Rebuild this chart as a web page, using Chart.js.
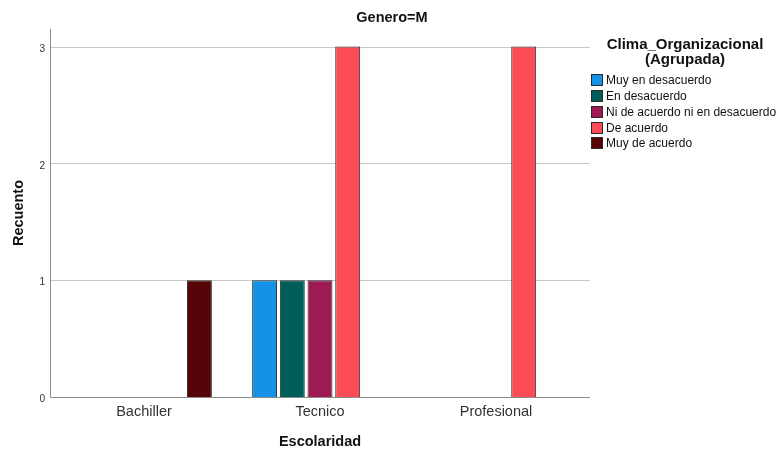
<!DOCTYPE html>
<html lang="es">
<head>
    <meta charset="UTF-8">
    <title>Genero=M - Escolaridad por Clima Organizacional</title>
    <script src="https://cdn.jsdelivr.net/npm/chart.js@4.4.1/dist/chart.umd.min.js"></script>
    <style>
        body {
            margin: 0;
            background: #fff;
            font-family: 'Liberation Sans', Arial, sans-serif;
        }
        .wrap {
            position: relative;
            width: 778px;
            height: 450px;
        }
        .legend-title {
            position: absolute;
            left: 596px;
            top: 36px;
            width: 178px;
            text-align: center;
            font-weight: bold;
            font-size: 15px;
            line-height: 15px;
            color: #111;
        }
        .legend-items {
            position: absolute;
            left: 591px;
            top: 72.6px;
        }
        .legend-item {
            display: flex;
            align-items: center;
            height: 15.75px;
            font-size: 12px;
            color: #111;
            white-space: nowrap;
        }
        .color-box {
            box-sizing: border-box;
            width: 12px;
            height: 12px;
            border: 1px solid #2b2b2b;
            margin-right: 3px;
        }
    </style>
</head>
<body>
    <div class="wrap">
        <canvas id="barChart"></canvas>
        <div class="legend-title">Clima_Organizacional<br>(Agrupada)</div>
        <div class="legend-items" id="legendItems"></div>
    </div>

    <script>
        // Escolaridad categories and counts per Clima_Organizacional group
        const categories = ['Bachiller', 'Tecnico', 'Profesional'];
        const seriesNames = ['Muy en desacuerdo', 'En desacuerdo', 'Ni de acuerdo ni en desacuerdo', 'De acuerdo', 'Muy de acuerdo'];
        const muyEnDesacuerdo = [null, 1, null];
        const enDesacuerdo = [null, 1, null];
        const niDeAcuerdo = [null, 1, null];
        const deAcuerdo = [null, 3, 3];
        const muyDeAcuerdo = [1, null, null];
        const yTicks = [0, 1, 2, 3];

        const seriesColors = ['#1492e6', '#005e5a', '#9d1a52', '#fc4c57', '#570409'];
        const seriesData = [muyEnDesacuerdo, enDesacuerdo, niDeAcuerdo, deAcuerdo, muyDeAcuerdo];

        const font = "'Liberation Sans', Arial, sans-serif";

        // Grid and axis lines run a few pixels past the bar area on both sides
        const framePlugin = {
            id: 'frame',
            beforeDatasetsDraw(chart) {
                const { ctx, chartArea: a, scales: { y } } = chart;
                const x0 = a.left - 6, x1 = a.right + 6;
                ctx.save();
                ctx.lineWidth = 1;
                ctx.strokeStyle = '#c8c8c8';
                yTicks.forEach(v => {
                    if (v === 0) return;
                    const py = Math.round(y.getPixelForValue(v)) + 0.5;
                    ctx.beginPath();
                    ctx.moveTo(x0, py);
                    ctx.lineTo(x1, py);
                    ctx.stroke();
                });
                ctx.strokeStyle = '#8c8c8c';
                ctx.beginPath();
                ctx.moveTo(x0 + 0.5, a.top);
                ctx.lineTo(x0 + 0.5, a.bottom + 0.5);
                ctx.lineTo(x1, a.bottom + 0.5);
                ctx.stroke();
                ctx.restore();
            }
        };

        // Panel heading centred on the whole canvas
        const panelTitle = {
            id: 'panelTitle',
            afterDraw(chart) {
                const { ctx } = chart;
                ctx.save();
                ctx.font = 'bold 14.5px ' + font;
                ctx.fillStyle = '#111';
                ctx.textAlign = 'center';
                ctx.textBaseline = 'alphabetic';
                ctx.fillText('Genero=M', 392, 21.7);
                ctx.restore();
            }
        };

        const ctx = document.getElementById('barChart').getContext('2d');
        new Chart(ctx, {
            type: 'bar',
            data: {
                labels: categories,
                datasets: seriesNames.map((name, i) => ({
                    label: name,
                    data: seriesData[i],
                    backgroundColor: seriesColors[i],
                    borderColor: '#2b2b2b',
                    borderWidth: 1,
                    categoryPercentage: 0.787,
                    barPercentage: 0.9
                }))
            },
            options: {
                responsive: true,
                maintainAspectRatio: false,
                animation: false,
                layout: {
                    padding: { left: 10, right: 194, top: 29, bottom: 0 }
                },
                scales: {
                    x: {
                        grid: { display: false, drawTicks: false },
                        border: { display: false },
                        ticks: {
                            color: '#333',
                            padding: 6,
                            font: { family: font, size: 14.5 }
                        },
                        title: {
                            display: true,
                            text: 'Escolaridad',
                            color: '#111',
                            padding: 0,
                            font: { family: font, size: 14.5, weight: 'bold', lineHeight: 1.1 }
                        },
                        afterFit(scale) { scale.height = 53; }
                    },
                    y: {
                        min: 0,
                        max: 3.15,
                        grid: { display: false, drawTicks: false },
                        border: { display: false },
                        ticks: {
                            color: '#333',
                            padding: 11,
                            labelOffset: 2.5,
                            font: { family: font, size: 10 }
                        },
                        afterBuildTicks(scale) {
                            scale.ticks = yTicks.map(v => ({ value: v }));
                        },
                        title: {
                            display: true,
                            text: 'Recuento',
                            color: '#111',
                            padding: 0,
                            font: { family: font, size: 14.5, weight: 'bold' }
                        },
                        afterFit(scale) { scale.width = 46; }
                    }
                },
                plugins: {
                    legend: { display: false },
                    title: { display: false },
                    tooltip: { enabled: false }
                }
            },
            plugins: [framePlugin, panelTitle]
        });

        // Legend for the Clima_Organizacional groups
        const legendItems = document.getElementById('legendItems');
        seriesNames.forEach((name, i) => {
            const item = document.createElement('div');
            item.className = 'legend-item';
            const box = document.createElement('div');
            box.className = 'color-box';
            box.style.backgroundColor = seriesColors[i];
            const label = document.createElement('span');
            label.textContent = name;
            item.appendChild(box);
            item.appendChild(label);
            legendItems.appendChild(item);
        });
    </script>
</body>
</html>
